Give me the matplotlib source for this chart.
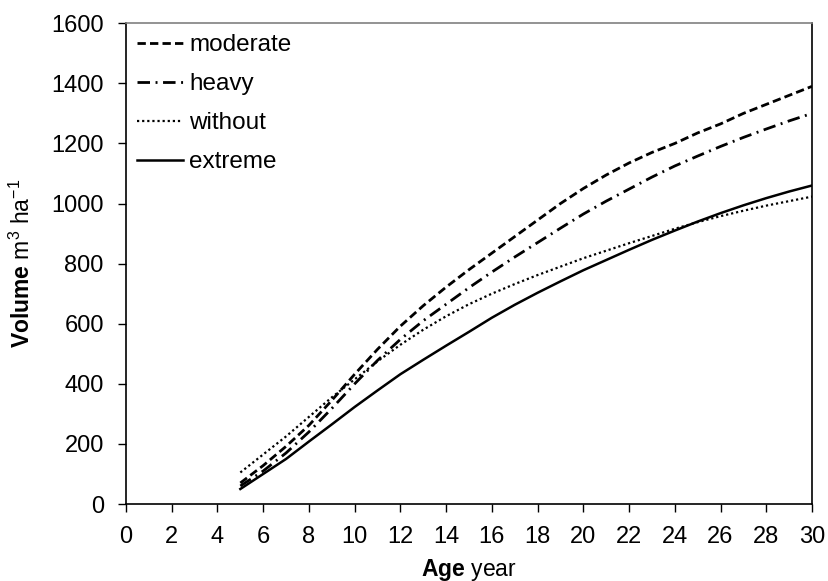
import matplotlib
matplotlib.use("Agg")
import matplotlib.pyplot as plt

plt.rcParams['font.family'] = ['Liberation Sans', 'DejaVu Sans']
plt.rcParams['mathtext.fontset'] = 'custom'
plt.rcParams['mathtext.rm'] = 'Liberation Sans'
plt.rcParams['mathtext.bf'] = 'Liberation Sans:bold'

age = list(range(5, 31))

# stand volume (m3/ha) by thinning regime
moderate = [70, 128, 192, 262, 345, 432, 515, 592, 660, 722, 780, 835, 890,
            945, 1000, 1050, 1095, 1135, 1170, 1200, 1235, 1265, 1300, 1330,
            1360, 1390]
heavy = [60, 110, 170, 240, 318, 400, 478, 548, 610, 665, 720, 772, 822,
         870, 918, 965, 1008, 1048, 1088, 1125, 1158, 1190, 1220, 1248,
         1275, 1300]
without = [105, 165, 225, 290, 355, 415, 475, 530, 580, 625, 665, 700, 732,
           762, 790, 818, 843, 868, 892, 916, 938, 958, 976, 993, 1008, 1023]
extreme = [50, 100, 150, 208, 265, 323, 378, 432, 480, 527, 573, 620, 663,
           703, 741, 778, 812, 846, 879, 910, 940, 968, 994, 1018, 1040, 1060]

fig = plt.figure(figsize=(8.29, 5.81), dpi=100)
ax = fig.add_axes([0.152, 0.1325, 0.8275, 0.8275])

ax.plot(age, moderate, color='black', lw=2, linestyle=(0, (3, 1.5)), label='moderate')
ax.plot(age, heavy, color='black', lw=2, linestyle=(0, (4.5, 2, 0.7, 2)), label='heavy')
ax.plot(age, without, color='black', lw=1.6, linestyle=(0, (1, 1.3)), label='without')
ax.plot(age, extreme, color='black', lw=1.8, linestyle='-', label='extreme')

ax.set_xlim(0, 30)
ax.set_ylim(0, 1600)
ax.set_xticks(range(0, 31, 2))
ax.set_yticks(range(0, 1601, 200))
ax.tick_params(direction='out', length=6, width=1, labelsize=17, pad=10)

for side in ['left', 'bottom', 'right']:
    ax.spines[side].set_color('black')
ax.spines['top'].set_color('#808080')
for s in ax.spines.values():
    s.set_linewidth(1.2)

ax.set_xlabel(r'$\bf{Age}$ year', fontsize=16.5, labelpad=6)
ax.set_ylabel(r'$\bf{Volume}$ m$^3$ ha$^{-1}$', fontsize=16.5, labelpad=12)

ax.legend(loc='upper left', frameon=False, fontsize=17.5, handlelength=1.9,
          handletextpad=0.25, labelspacing=0.7, borderaxespad=0.2,
          borderpad=0.25)

fig.savefig('out.png', dpi=100)
